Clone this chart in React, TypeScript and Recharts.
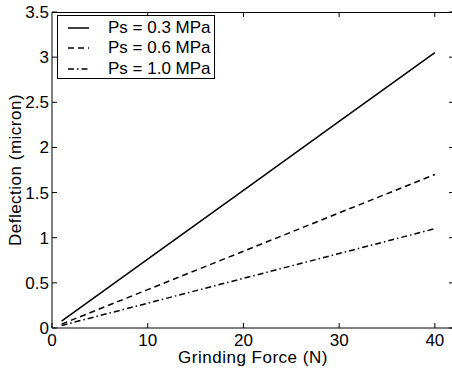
import React from 'react';
import { LineChart, Line, XAxis, YAxis, Legend, ReferenceLine } from 'recharts';

const force = [1, 10, 20, 30, 40];
const ps03 = [0.076, 0.763, 1.525, 2.288, 3.05];
const ps06 = [0.043, 0.425, 0.85, 1.275, 1.7];
const ps10 = [0.028, 0.275, 0.55, 0.825, 1.1];

const xTicks = [0, 10, 20, 30, 40];
const yTicks = [0, 0.5, 1, 1.5, 2, 2.5, 3, 3.5];

const seriesNames = ['Ps = 0.3 MPa', 'Ps = 0.6 MPa', 'Ps = 1.0 MPa'];
const dashes = ['', '6 4', '6 3 1.5 3'];

const FONT = 'Arial, "Liberation Sans", Helvetica, sans-serif';

const data = force.map((f, i) => ({
  force: f,
  s1: ps03[i],
  s2: ps06[i],
  s3: ps10[i],
}));

const BottomTick = ({ x, y, payload }: any) => (
  <g>
    <line x1={x} x2={x} y1={y} y2={y - 5} stroke="#000" />
    <text x={x} y={y + 18} textAnchor="middle" fontSize={17} fontFamily={FONT} fill="#000">
      {payload.value}
    </text>
  </g>
);

const LeftTick = ({ x, y, payload }: any) => (
  <g>
    <line x1={x} x2={x + 5} y1={y} y2={y} stroke="#000" />
    <text x={x - 3} y={y + 6} textAnchor="end" fontSize={17} fontFamily={FONT} fill="#000">
      {payload.value}
    </text>
  </g>
);

const RightTick = ({ x, y }: any) => (
  <line x1={x} x2={x - 5} y1={y} y2={y} stroke="#000" />
);

// inward tick on the top border, drawn from a vertical reference line
const TopTickShape = (p: any) => {
  const top = Math.min(p.y1, p.y2);
  return <line x1={p.x1} x2={p.x1} y1={top} y2={top + 5} stroke="#000" />;
};

const LegendBox = () => (
  <div
    style={{
      width: 158,
      height: 64,
      border: '1px solid #000',
      background: '#fff',
      boxSizing: 'border-box',
      fontFamily: FONT,
      fontSize: 17,
      paddingTop: 2,
    }}
  >
    {seriesNames.map((name, i) => (
      <div key={name} style={{ display: 'flex', alignItems: 'center', height: 20.3 }}>
        <svg width={50} height={10}>
          <line x1={10} x2={31} y1={5} y2={5} stroke="#000" strokeWidth={1.5} strokeDasharray={dashes[i] || undefined} />
        </svg>
        <span style={{ lineHeight: '20px' }}>{name}</span>
      </div>
    ))}
  </div>
);

export default function App() {
  return (
    <div style={{ position: 'absolute', left: 0, top: 0, width: 460, height: 374, background: '#fff' }}>
      <LineChart
        width={460}
        height={374}
        data={data}
        margin={{ top: 12, right: 0, bottom: 0, left: 0 }}
      >
        <XAxis
          dataKey="force"
          type="number"
          domain={[0, 42]}
          ticks={xTicks}
          height={46}
          tickSize={0}
          tickMargin={0}
          tickLine={false}
          axisLine={{ stroke: '#000' }}
          tick={<BottomTick />}
          label={{
            content: ({ viewBox }: any) => (
              <text
                x={viewBox.x + viewBox.width / 2}
                y={viewBox.y + 35}
                textAnchor="middle"
                fontSize={17}
                letterSpacing={0.5}
                fontFamily={FONT}
                fill="#000"
              >
                Grinding Force (N)
              </text>
            ),
          }}
        />
        <YAxis
          type="number"
          domain={[0, 3.5]}
          ticks={yTicks}
          width={52}
          tickSize={0}
          tickMargin={0}
          tickLine={false}
          axisLine={{ stroke: '#000' }}
          tick={<LeftTick />}
          label={{
            content: ({ viewBox }: any) => {
              const cx = 15;
              const cy = viewBox.y + viewBox.height / 2;
              return (
                <text
                  x={cx}
                  y={cy}
                  transform={`rotate(-90 ${cx} ${cy})`}
                  textAnchor="middle"
                  dominantBaseline="central"
                  fontSize={17}
                  letterSpacing={0.5}
                  fontFamily={FONT}
                  fill="#000"
                >
                  Deflection (micron)
                </text>
              );
            },
          }}
        />
        <YAxis
          yAxisId="right"
          orientation="right"
          type="number"
          domain={[0, 3.5]}
          ticks={yTicks}
          width={6}
          tickSize={0}
          tickMargin={0}
          tickLine={false}
          axisLine={{ stroke: '#000' }}
          tick={<RightTick />}
        />
        {xTicks.slice(1).map((t) => (
          <ReferenceLine key={t} x={t} ifOverflow="visible" stroke="none" shape={TopTickShape} />
        ))}
        <Legend
          layout="vertical"
          align="center"
          verticalAlign="middle"
          wrapperStyle={{ top: 15, left: 57, width: 158 }}
          content={<LegendBox />}
        />
        <Line yAxisId="right" dataKey="s1" name={seriesNames[0]} stroke="#000" strokeWidth={1.5} dot={false} isAnimationActive={false} />
        <Line dataKey="s2" name={seriesNames[1]} stroke="#000" strokeWidth={1.5} strokeDasharray={dashes[1]} dot={false} isAnimationActive={false} />
        <Line dataKey="s3" name={seriesNames[2]} stroke="#000" strokeWidth={1.5} strokeDasharray={dashes[2]} dot={false} isAnimationActive={false} />
      </LineChart>
      {/* top edge of the axes box */}
      <div
        style={{
          position: 'absolute',
          left: 52,
          top: 12,
          width: 402,
          height: 0,
          borderTop: '1px solid #000',
          pointerEvents: 'none',
          zIndex: 10,
        }}
      />
    </div>
  );
}
